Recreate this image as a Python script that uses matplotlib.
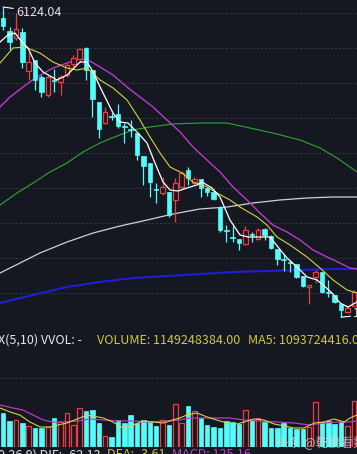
import matplotlib
matplotlib.use("Agg")
import matplotlib.pyplot as plt
import numpy as np

plt.rcParams["font.family"] = ["Noto Sans CJK SC", "DejaVu Sans"]

# K线数据（周线，6124 高点之后）
aperturas = [5966, 5779, 5679, 5765, 5204, 5362, 5118, 4859, 5075, 5046,
             5146, 5305, 5377, 5535, 5218, 4758, 4456, 4557, 4586, 4413,
             4370, 4312, 3982, 3881, 3507, 3450, 3464, 3349, 3536, 3780,
             3593, 3651, 3522, 3464, 3248, 2918, 2817, 2788, 2716, 2860,
             2788, 2932, 2831, 2644, 2500, 2457, 2429, 2256, 2098, 2242,
             2314, 2026, 1983, 1853, 1738, 1825]
maximos = [6124, 5837, 6038, 5822, 5477, 5362, 5146, 5146, 5233, 5146,
           5318, 5434, 5535, 5549, 5218, 4758, 4686, 4600, 4729, 4456,
           4499, 4312, 3982, 3881, 3593, 3680, 3464, 3665, 3766, 3824,
           3680, 3651, 3536, 3478, 3263, 2989, 2975, 2788, 2975, 2889,
           2946, 2946, 2846, 2644, 2572, 2486, 2429, 2256, 2127, 2342,
           2314, 2199, 1983, 1853, 1839, 2055]
minimos = [5794, 5506, 5650, 5247, 5075, 4931, 4830, 4830, 4902, 4859,
           5118, 5262, 5333, 5075, 4543, 4241, 4442, 4499, 4384, 4169,
           4255, 3924, 3565, 3392, 3306, 3421, 3105, 3033, 3522, 3565,
           3565, 3392, 3407, 3349, 2889, 2745, 2745, 2630, 2702, 2745,
           2774, 2774, 2644, 2414, 2328, 2314, 2227, 2098, 1853, 2155,
           2012, 1954, 1868, 1665, 1724, 1810]
cierres = [5851, 5621, 5808, 5333, 5333, 5075, 4902, 5118, 5060, 5118,
           5290, 5391, 5520, 5218, 4801, 4370, 4614, 4543, 4413, 4399,
           4356, 3996, 3838, 3608, 3493, 3536, 3133, 3593, 3737, 3665,
           3651, 3522, 3464, 3363, 2918, 2903, 2803, 2731, 2918, 2846,
           2918, 2846, 2659, 2501, 2486, 2443, 2242, 2112, 2127, 2314,
           2026, 2012, 1882, 1767, 1796, 2026]
volumenes = [8.5, 6.5, 6.75, 6.0, 5.25, 4.75, 4.75, 5.0, 7.25, 6.25,
             8.5, 5.5, 9.75, 9.0, 9.25, 6.0, 2.75, 2.5, 6.75, 6.0,
             8.0, 6.0, 6.75, 6.25, 5.25, 6.75, 5.5, 10.75, 6.0, 10.25,
             9.0, 7.25, 5.5, 5.0, 4.75, 6.5, 6.25, 5.75, 9.25, 6.75,
             7.25, 6.25, 4.75, 4.75, 6.0, 4.75, 4.5, 4.5, 5.0, 11.25,
             6.25, 6.5, 5.75, 6.25, 5.25, 11.5]

# 均线（读图取点）
ma5_x = [-0.5, 0.75, 1.85, 2.95, 3.89, 4.99, 6.25, 8.44, 10.01, 12.05, 13.15, 13.93,
         15.66, 17.23, 18.32, 19.58, 20.99, 22.56, 23.81, 25.07, 26.17, 27.42, 28.83,
         30.4, 31.19, 32.75, 34.01, 35.58, 37.15, 38.4, 40.75, 41.85, 43.11, 44.52,
         46.09, 47.66, 49.23, 50.17, 51.58, 52.83, 54.09, 55.5]
ma5_y = [5621, 5722, 5750, 5621, 5535, 5319, 5190, 5075, 5146, 5333, 5333, 5218,
         4888, 4600, 4471, 4456, 4327, 4169, 3881, 3608, 3493, 3478, 3522,
         3565, 3608, 3522, 3392, 3061, 2846, 2817, 2817, 2817, 2673, 2515,
         2386, 2242, 2199, 2127, 2012, 1868, 1810, 1882]
ma10_x = [-0.5, 1.54, 3.42, 5.77, 7.81, 10.01, 11.58, 13.15, 15.19, 17.23, 19.42,
          21.46, 23.03, 24.6, 26.17, 28.05, 29.78, 31.97, 33.54, 35.58, 37.15,
          39.81, 41.38, 42.95, 44.99, 47.66, 49.7, 51.74, 53.93, 55.5]
ma10_y = [5319, 5535, 5549, 5463, 5333, 5247, 5218, 5247, 5075, 4960, 4787,
          4499, 4255, 4025, 3824, 3737, 3608, 3536, 3450, 3349, 3248,
          3105, 2989, 2817, 2702, 2529, 2371, 2199, 2055, 2012]
ma20_x = [-0.5, 1.07, 3.11, 5.3, 7.81, 10.01, 12.05, 13.3, 15.19, 17.23, 19.42,
          21.46, 23.5, 25.7, 27.74, 29.78, 31.97, 34.01, 36.05, 38.25, 40.28,
          42.32, 44.52, 46.56, 48.6, 50.8, 52.83, 54.4, 55.5]
ma20_y = [4686, 4830, 4974, 5118, 5247, 5319, 5377, 5362, 5262, 5146, 4974,
          4830, 4686, 4499, 4327, 4111, 3924, 3752, 3536, 3349, 3162,
          2989, 2889, 2774, 2630, 2529, 2443, 2371, 2357]
ma60_x = [-0.5, 2.17, 4.68, 7.34, 10.01, 12.52, 15.19, 17.85, 20.36, 23.03, 26.64,
          30.87, 35.11, 38.72, 42.32, 46.56, 49.7, 52.36, 55.5]
ma60_y = [3277, 3450, 3593, 3752, 3881, 4039, 4169, 4269, 4356, 4399, 4442,
          4456, 4456, 4384, 4312, 4212, 4097, 3953, 3752]
ma120_x = [-0.5, 2.64, 5.77, 10.01, 14.09, 18.32, 22.56, 26.64, 30.87, 35.11,
           39.19, 43.42, 47.66, 51.74, 55.5]
ma120_y = [2299, 2443, 2587, 2745, 2874, 2975, 3061, 3148, 3220, 3248,
           3306, 3349, 3378, 3392, 3392]
ma250_x = [-0.5, 4.68, 10.01, 15.19, 20.36, 25.7, 30.87, 36.05, 41.38, 46.56, 51.74, 55.5]
ma250_y = [1868, 1983, 2098, 2170, 2227, 2256, 2285, 2314, 2328, 2342, 2357, 2357]

vma5_x = [-0.5, 1.1, 2.6, 4.2, 5.8, 7.3, 8.6, 10.0, 11.6, 13.2, 14.1, 15.7, 17.2,
          18.8, 20.4, 21.9, 23.5, 25.1, 26.6, 27.7, 28.8, 30.4, 32.0, 33.5, 35.1,
          36.7, 37.8, 39.3, 40.9, 42.5, 44.1, 45.6, 47.2, 48.8, 50.3, 51.9, 53.5,
          54.4, 55.5]
vma5_y = [9.75, 8.75, 8.0, 6.25, 5.0, 5.0, 5.5, 6.0, 7.0, 8.0, 7.75, 7.25, 6.25,
          4.75, 5.5, 6.5, 6.25, 6.0, 6.75, 7.25, 8.0, 8.5, 7.5, 6.75, 6.0,
          5.75, 6.25, 7.0, 6.75, 5.75, 5.25, 4.75, 4.75, 6.0, 6.25, 7.0, 6.25,
          7.25, 8.0]
vma10_x = [-0.5, 1.5, 3.1, 4.7, 6.3, 7.8, 9.4, 11.6, 13.6, 15.7, 17.9, 20.4, 23.0,
           25.7, 27.7, 29.3, 31.5, 33.5, 35.6, 37.8, 40.3, 43.0, 45.6, 48.1, 50.3,
           52.4, 54.4, 55.5]
vma10_y = [10.5, 9.75, 9.25, 8.0, 6.75, 6.25, 6.25, 6.5, 7.0, 6.75, 6.5, 6.5, 6.25,
           6.5, 6.75, 7.25, 7.25, 7.25, 7.25, 6.75, 6.5, 6.25, 6.0, 5.5, 6.0,
           6.25, 6.25, 6.5]

niveles_grid = [6038, 5535, 5032, 4528, 4025, 3522, 3018, 2515, 2012]

FONDO = "#151821"
CIAN = "#54fcfc"
ROJO = "#f03c3c"
GRID = "#353a46"


def dibujar_velas(ax):
    idx = np.arange(len(cierres))
    ancho = 0.72
    for i in idx:
        o, h, l, c = aperturas[i], maximos[i], minimos[i], cierres[i]
        sube = c > o
        color = ROJO if sube else CIAN
        ax.vlines(i, l, h, color=color, lw=0.9, zorder=3)
        alto = max(abs(c - o), 15)
        base = min(o, c)
        if sube:
            ax.bar(i, alto, bottom=base, width=ancho, facecolor=FONDO,
                   edgecolor=color, lw=0.9, zorder=4)
        else:
            ax.bar(i, alto, bottom=base, width=ancho, facecolor=color,
                   edgecolor=color, lw=0.5, zorder=4)


def main():
    fig = plt.figure(figsize=(3.57, 4.54), dpi=100, facecolor=FONDO)

    ax = fig.add_axes([0, 1 - 325 / 454, 1, 325 / 454], facecolor=FONDO)
    for y in niveles_grid:
        ax.axhline(y, color=GRID, lw=0.7, ls=(0, (2, 2)), zorder=1)

    ax.plot(ma250_x, ma250_y, color="#1f1fd6", lw=1.5, zorder=2)
    ax.plot(ma120_x, ma120_y, color="#d0d0d0", lw=0.9, zorder=2)
    ax.plot(ma60_x, ma60_y, color="#2fa62f", lw=0.8, zorder=2)
    ax.plot(ma20_x, ma20_y, color="#b83cc8", lw=1.0, zorder=2)
    ax.plot(ma10_x, ma10_y, color="#d8d23c", lw=0.8, zorder=5)
    ax.plot(ma5_x, ma5_y, color="#ffffff", lw=0.9, zorder=5)

    dibujar_velas(ax)

    ax.annotate("6124.04", xy=(0, 6124), xytext=(2.0, 6052), color="#e0e0e0",
                fontsize=9, va="center", ha="left",
                arrowprops=dict(arrowstyle="-", color="#ffffff", lw=0.8,
                                shrinkA=0, shrinkB=0))
    ax.annotate("1664.93", xy=(53, 1665), xytext=(54.9, 1710), color="#e0e0e0",
                fontsize=9, va="center", ha="left", annotation_clip=False,
                arrowprops=dict(arrowstyle="-", color="#ffffff", lw=0.8,
                                shrinkA=0, shrinkB=0))

    ax.set_xlim(-0.5, 55.5)
    ax.set_ylim(6225 - 14.38 * 325, 6225)
    ax.axis("off")

    axv = fig.add_axes([0, 1 - 447 / 454, 1, 85 / 454], facecolor=FONDO)
    axv.axhline(17.25, color=GRID, lw=0.7, ls=(0, (2, 2)), zorder=1)
    for i, v in enumerate(volumenes):
        if cierres[i] > aperturas[i]:
            axv.bar(i, v, width=0.72, facecolor=FONDO, edgecolor=ROJO, lw=0.9, zorder=3)
        else:
            axv.bar(i, v, width=0.72, facecolor=CIAN, edgecolor=CIAN, lw=0.5, zorder=3)
    axv.plot(vma10_x, vma10_y, color="#b83cc8", lw=0.9, zorder=4)
    axv.plot(vma5_x, vma5_y, color="#d8d23c", lw=0.8, zorder=5)
    axv.set_xlim(-0.5, 55.5)
    axv.set_ylim(0, 85 * 0.25)
    axv.axis("off")

    def texto(x, y, s, color, **kw):
        fig.text(x / 357, 1 - y / 454, s, color=color, fontsize=9, va="center", ha="left", **kw)

    texto(-2, 340, "X(5,10) VVOL: -", "#e6e6e6")
    texto(97, 340, "VOLUME: 1149248384.00", "#cfc83a")
    texto(248, 340, "MA5: 1093724416.00", "#cfc83a")

    texto(-2, 455, "0.26.9) DIF: -62.12", "#e6e6e6")
    texto(107, 455, "DEA: -3.61", "#cfc83a")
    texto(172, 455, "MACD: 125.16", "#c040d0")

    texto(276, 442, "头条 @乾鹏看数据", "#d8d8d8", alpha=0.75)

    fig.savefig("out.png", dpi=100, facecolor=FONDO)


if __name__ == "__main__":
    main()
